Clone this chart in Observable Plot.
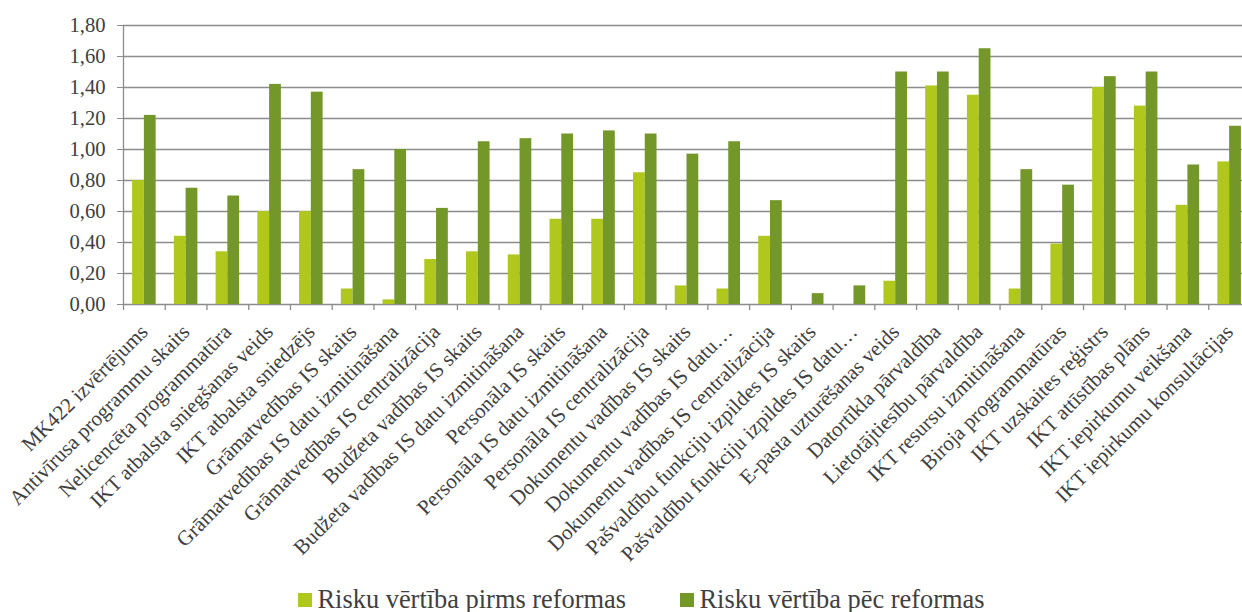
<!DOCTYPE html>
<html>
<head>
<meta charset="utf-8">
<script src="https://cdn.jsdelivr.net/npm/d3@7"></script>
<script src="https://cdn.jsdelivr.net/npm/@observablehq/plot@0.6"></script>
<style>
  html, body { margin: 0; padding: 0; background: #fff; }
  #chart svg { display: block; }
  .legend { position: relative; width: 1242px; height: 32px; font-family: "Liberation Serif", Tinos, "Times New Roman", serif; font-size: 26.4px; color: #404040; }
  .legend .sw { position: absolute; top: 13px; width: 14px; height: 14px; }
  .legend .tx { position: absolute; top: 6px; line-height: 1; white-space: nowrap; }
</style>
</head>
<body>
<div id="chart"></div>
<div class="legend" id="legend"></div>
<script>
const categories = [
  "MK422 izvērtējums",
  "Antivīrusa programmu skaits",
  "Nelicencēta programmatūra",
  "IKT atbalsta sniegšanas veids",
  "IKT atbalsta sniedzējs",
  "Grāmatvedības IS skaits",
  "Grāmatvedības IS datu izmitināšana",
  "Grāmatvedības IS centralizācija",
  "Budžeta vadības IS skaits",
  "Budžeta vadības IS datu izmitināšana",
  "Personāla IS skaits",
  "Personāla IS datu izmitināšana",
  "Personāla IS centralizācija",
  "Dokumentu vadības IS skaits",
  "Dokumentu vadības IS datu…",
  "Dokumentu vadības IS centralizācija",
  "Pašvaldību funkciju izpildes IS skaits",
  "Pašvaldību funkciju izpildes IS datu…",
  "E-pasta uzturēšanas veids",
  "Datortīkla pārvaldība",
  "Lietotājtiesību pārvaldība",
  "IKT resursu izmitināšana",
  "Biroja programmatūras",
  "IKT uzskaites reģistrs",
  "IKT attīstības plāns",
  "IKT iepirkumu veikšana",
  "IKT iepirkumu konsultācijas"
];
const before = [0.80, 0.44, 0.34, 0.60, 0.60, 0.10, 0.03, 0.29, 0.34, 0.32, 0.55, 0.55, 0.85, 0.12, 0.10, 0.44, 0.00, 0.00, 0.15, 1.41, 1.35, 0.10, 0.39, 1.40, 1.28, 0.64, 0.92];
const after  = [1.22, 0.75, 0.70, 1.42, 1.37, 0.87, 1.00, 0.62, 1.05, 1.07, 1.10, 1.12, 1.10, 0.97, 1.05, 0.67, 0.07, 0.12, 1.50, 1.50, 1.65, 0.87, 0.77, 1.47, 1.50, 0.90, 1.15];
const yTicks = [0, 0.2, 0.4, 0.6, 0.8, 1.0, 1.2, 1.4, 1.6, 1.8];
const seriesNames = ["Risku vērtība pirms reformas", "Risku vērtība pēc reformas"];
const seriesColors = ["#b0c81e", "#739729"];

const width = 1242, height = 580;
const marginLeft = 123, marginRight = -8, marginTop = 25, marginBottom = 276;
const bw = (width - marginLeft - marginRight) / categories.length;
const outer = bw * 0.218;
const half = bw / 2;
const serif = "'Liberation Serif', Tinos, 'Times New Roman', serif";

const rowsBefore = categories.map((c, i) => ({category: c, value: before[i]}));
const rowsAfter = categories.map((c, i) => ({category: c, value: after[i]}));
const fmt = d => d3.format(".2f")(d).replace(".", ",");
const grid = "#8c8c8c";

const chart = Plot.plot({
  width, height, marginLeft, marginRight, marginTop, marginBottom,
  style: {fontFamily: serif, fontSize: "21px", color: "#404040", background: "#fff"},
  x: {domain: categories, padding: 0, round: false, label: null},
  y: {domain: [0, 1.8], label: null},
  marks: [
    Plot.ruleY(yTicks, {stroke: grid, strokeWidth: 1.3}),
    Plot.barY(rowsBefore, {x: "category", y: "value", fill: seriesColors[0], insetLeft: outer, insetRight: half}),
    Plot.barY(rowsAfter, {x: "category", y: "value", fill: seriesColors[1], insetLeft: half, insetRight: outer}),
    Plot.ruleX(categories, {x: d => d, dx: -half, y1: 0, y2: 0, insetBottom: -6, stroke: grid, strokeWidth: 1.3}),
    Plot.ruleX([0], {x: () => categories[0], dx: -half, y1: 1.8, y2: 0, stroke: grid, strokeWidth: 1.3}),
    Plot.axisY({ticks: yTicks, tickFormat: fmt, tickSize: 6, tickPadding: 12, stroke: grid, label: null, fontSize: 20.6, fontFamily: serif, fill: "#404040"}),
    Plot.axisX({tickSize: 0, tickRotate: -45, tickPadding: 24, textAnchor: "end", lineAnchor: "middle", label: null, fontSize: 21, fontFamily: serif, fill: "#404040"})
  ]
});
document.getElementById("chart").appendChild(chart);

const legend = document.getElementById("legend");
const legendLeft = [298, 680];
seriesNames.forEach((name, i) => {
  const sw = document.createElement("div");
  sw.className = "sw";
  sw.style.left = legendLeft[i] + "px";
  sw.style.background = seriesColors[i];
  const tx = document.createElement("div");
  tx.className = "tx";
  tx.style.left = (legendLeft[i] + 19.5) + "px";
  tx.textContent = name;
  legend.appendChild(sw);
  legend.appendChild(tx);
});
</script>
</body>
</html>
